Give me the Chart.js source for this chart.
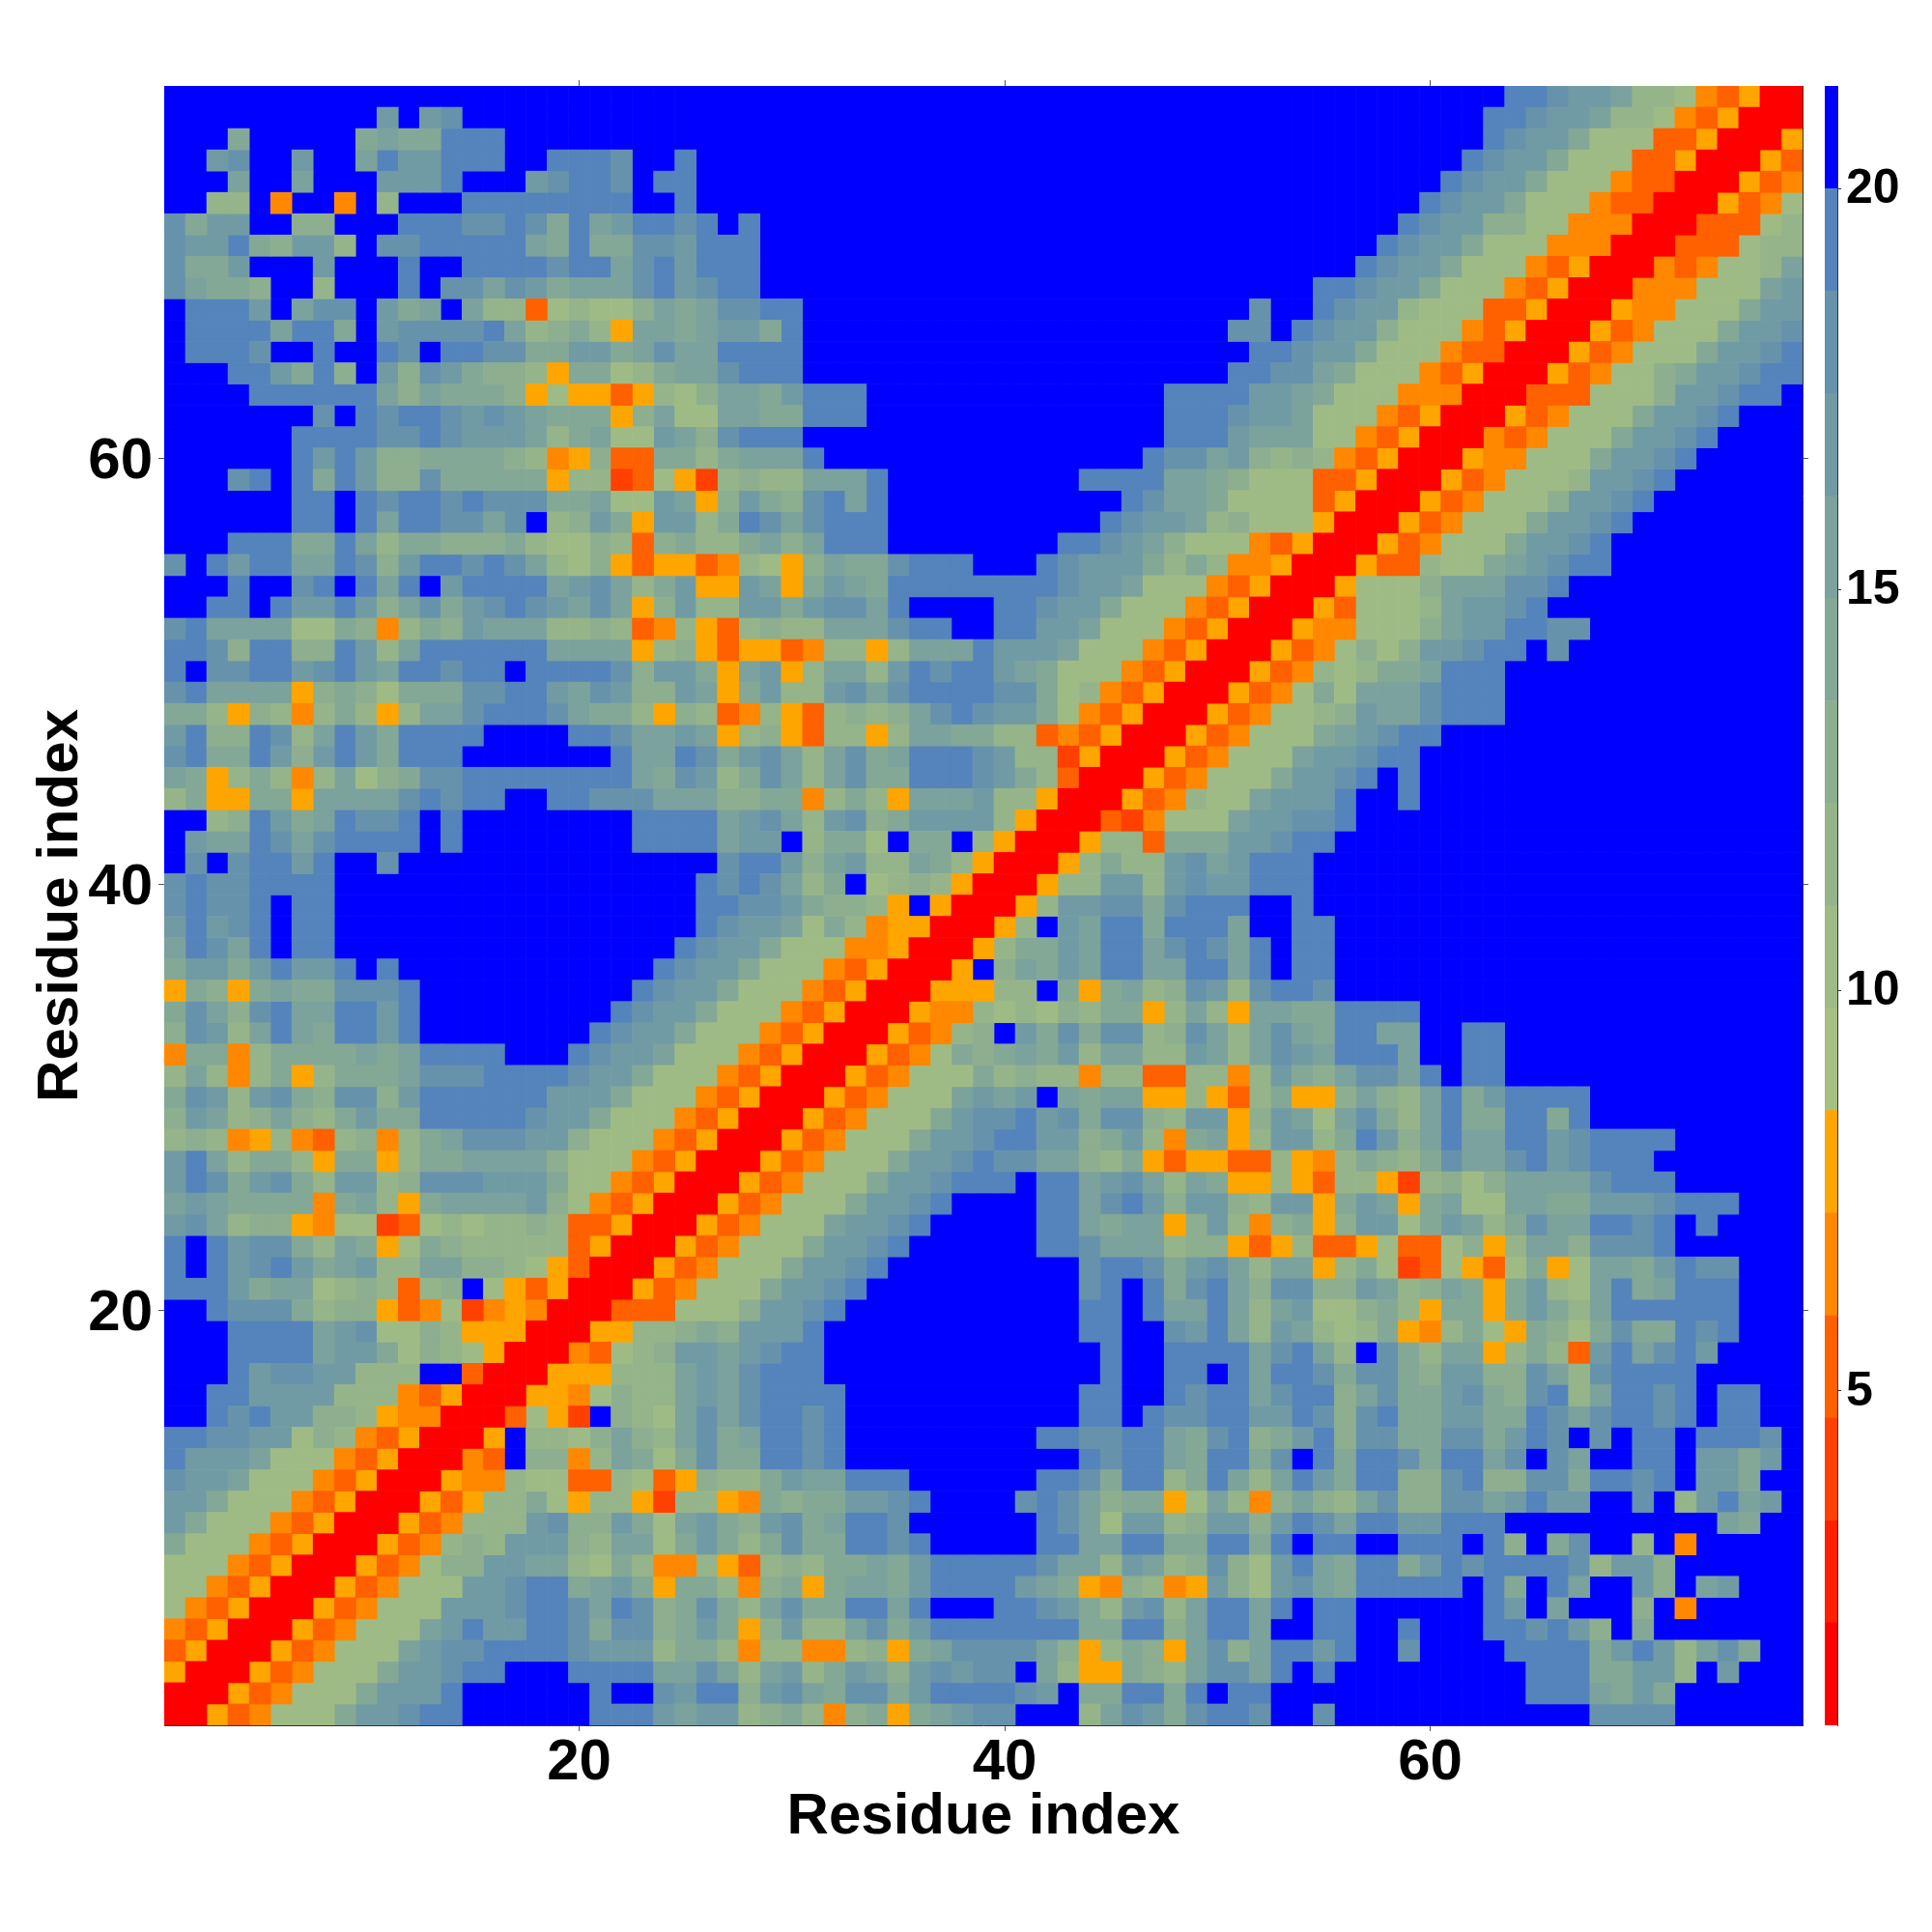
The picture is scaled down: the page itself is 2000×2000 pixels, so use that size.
<!DOCTYPE html>
<html lang="en">
<head>
<meta charset="UTF-8">
<title>Residue distance map</title>
<script src="https://cdn.jsdelivr.net/npm/chart.js@4/dist/chart.umd.min.js"></script>
<style>
  body { margin: 0; background: #fff; }
  canvas { position: absolute; top: 0; }
</style>
</head>
<body>
<canvas id="mapChart" width="2000" height="2000" style="left:0"></canvas>
<canvas id="barChart" width="120" height="2000" style="left:1880px"></canvas>
<script>
// colour bar bands, low to high
const bandEdges = [0.83, 2.11, 3.38, 4.66, 5.94, 7.22, 8.50, 9.77, 11.05, 12.33, 13.61, 14.89, 16.16, 17.44, 18.72, 20.0, 21.28];
const bandColours = ['#ff0000', '#ff2000', '#ff4000', '#ff6000', '#ff8800', '#ffa500',
  '#a5c080', '#9fbb85', '#96b48a', '#8dae8f', '#84a896', '#7ba29c', '#719ba4', '#6692ac', '#5484bb', '#0000ff'];
const residueTicks = [20, 40, 60];
const barTicks = [5, 10, 15, 20];

// map is symmetric: row n holds residues 1..n, one hex digit per cell = band index above
const distanceRows = [
  "0",
  "00",
  "500",
  "3500",
  "43500",
  "743500",
  "7743500",
  "77743500",
  "a77743500",
  "ca77743500",
  "cca77743500",
  "dccb77743500",
  "ecccb77743500",
  "eeddcc79843500",
  "ffedecc99854400",
  "ffeecccc88843500",
  "fffecddcc888ff300",
  "fffeeeebcca7987500",
  "fffeeeebcd779855500",
  "ffeddda899534724540 0",
  "eeecabb7898389f7535 00",
  "efecdecabc88bb99875 300",
  "efecdda8ba57a988888 3500",
  "cdb8995477237878898 33500",
  "bcbaaaa4ab85abbbbc9 743500",
  "cedacda8cc89dddccca 7743500",
  "ceb8aa85aa58aabbbb9 77743500",
  "898458438948abdddcc 977743500",
  "9cb89b98acaaeeeeedc ca77743500",
  "adc8cda9dd9ceeeeeec cca77743500",
  "8b848a58aaabdddeeee dcca77743500",
  "4aa48aaaababeeeefff edccb77743500",
  "9dc8bebaeecefffffff fedcca77743500",
  "adb9debbeecefffffff ffedcca77743500",
  "5a95abaadddefffffff fffedcca77743500",
  "accaceccefeffffffff ffffedcca77743500",
  "bedbefeefffffffffff fffffedcca77744500",
  "cecdefeefffffffffff ffffffedccb7a845500",
  "deddefeefffffffffff ffffffeeddca9985f50 0",
  "deddeeeefffffffffff ffffffededb8af78985 00",
  "fdfdeeceffdffffffff fffffffdeec9bc88ba8 500",
  "fcbbedbdeeeefefffff fffeeeebccf8aa7faaf 8500",
  "ff89ecabeddefefffff fffeeeebcdb8cd9accc c8500",
  "8a55aa5bbbbdedeeffe edddbbb99aa48a85bbb c88500",
  "ba58a848b79addeeeee eeebadc8adb8bdaaeee dca8300",
  "deaaec9cecaeeefffff ffebbedacdb8bdabeee dc882500",
  "ce99ed8becaeeeeffff eedbbcb589538858bba a88343500",
  "aa859848a858bbdeeed baa8598348538989bde dcca743500",
  "debbbb59a97aaaddeec bdc99cb5ac88cdbdeee edda7843500",
  "efddeecdecbeedeefee eed9cca5bc58bb8cede ecba77743500",
  "eed9ee99ec8beeeeeeb bbb5895355348858bbb ecccb77743500",
  "debbbb77a948a9cbbb8 898348538988bbbdeef feeccb77743500",
  "ffeefeccec9bdacdedc bdb59c88ccacddbefff feedcca77743500",
  "fffeffdefebefceeeeb cdb8ac55cb5acbaeeee eeeedccb77743500",
  "dfeceebbed9ceededb8 795355348759baadeee fffedccca8a844500",
  "fffeeeaaeb8aa999a87 79839a88ab9beeeffff ffffeedcb977743500",
  "ffffffeefebeeddbdf8 9ca5cc8aedbdeeeffff ffffffedccb89777500",
  "ffffffeefedeededdda ab77cb59ca9debeffff fffffffedbba7777350 0",
  "fffdefeaec99daaaaa5 88237528988bbbeffff fffffeeeebba9777335 00",
  "ffffffecec99aaaa984 5933aa8abbbefffffff ffffffffeddbc989843 500",
  "ffffffeeeeddedcccb8 ab77cb9deeeffffffff fffffffffeeecbbb774 3500",
  "fffffffdfedeedcdcba aa59b77bbaaeeefffff fffffffffeeedccb777 43500",
  "ffffeeeeeeb9baaa957 5535879bbaceeefffff fffffffffeeeeccba77 744400",
  "fffeecae9fc9dca9985 aa78abbdeeeffffffff ffffffffffffeeddba7 7743500",
  "feeedffeffedfeeddaa ccabdbbeeeeffffffff fffffffffffffeedcca 77743300",
  "feeeebeeafcddddeb89 a85bbabccaeffffffff ffffffffffffddfedcc 977743500",
  "feeecfbddfcabfb8837 8779babddeeffffffff fffffffffffffdffedc c877733500",
  "dbaa9ff8fffefddbdca bbbdecdeeffffffffff ffffffffffffffffeed cca77743500",
  "daacfffcfffeffeeeed eebdeceeeffffffffff ffffffffffffffffffe dcca77743500",
  "dccea9cc8fddeeeeeba eaaddceeeffffffffff fffffffffffffffffff edcca77744400",
  "daccff99fffeeeddeda ebceedefeffffffffff fffffffffffffffffff fedcc997744400",
  "ff88f4ff4f8fffeeeee eeeffefffffffffffff fffffffffffffffffff ffedcca77743300",
  "fffbffbfffcccefffcd eedfeefffffffffffff fffffffffffffffffff fffedcca77743300",
  "ffcdffcffbecceeeffe eedffefffffffffffff fffffffffffffffffff ffffedcca77733500",
  "fffafffffabaaeeefff fffffffffffffffffff fffffffffffffffffff fffffedcca77733500",
  "ffffffffffcfcdfffff fffffffffffffffffff fffffffffffffffffff fffffeedccb88743500",
  "fffffffffffffffffff fffffffffffffffffff fffffffffffffffffff ffffffeedccb88743500"
];

// one cell list per colour band so each band is a dataset
const bandCells = bandColours.map(() => []);
distanceRows.forEach((text, r) => {
  const row = text.replace(/ /g, '');
  for (let c = 0; c < row.length; c++) {
    const band = parseInt(row[c], 16);
    bandCells[band].push({ x: c + 1, y: [r + 0.5, r + 1.5] });
    if (c !== r) bandCells[band].push({ x: r + 1, y: [c + 0.5, c + 1.5] });
  }
});

const axisFont = { family: 'Liberation Sans', size: 60, weight: 'bold' };
const frame = { display: true, color: '#333', width: 1 };
const tickGrid = { drawOnChartArea: false, color: '#555', tickLength: 6, offset: false };

function fixedSize(prop, px) {
  return axis => { axis[prop] = px; };
}
function setTicks(values) {
  return axis => { axis.ticks = values.map(v => ({ value: v })); };
}
function residueAxis(position, prop, px, padding, labelOffset, title) {
  const isX = position === 'bottom' || position === 'top';
  const showLabels = position === 'bottom' || position === 'left';
  return {
    type: 'linear',
    axis: isX ? 'x' : 'y',
    position: position,
    min: 0.5,
    max: 77.5,
    offset: false,
    grid: tickGrid,
    border: frame,
    afterFit: fixedSize(prop, px),
    afterBuildTicks: setTicks(residueTicks),
    ticks: { display: showLabels, padding: padding, labelOffset: labelOffset, maxRotation: 0, autoSkip: false, color: '#000', font: axisFont },
    title: title
  };
}

new Chart(document.getElementById('mapChart'), {
  type: 'bar',
  data: {
    datasets: bandColours.map((colour, i) => ({ data: bandCells[i], backgroundColor: colour }))
  },
  options: {
    responsive: false,
    animation: false,
    devicePixelRatio: 1,
    grouped: false,
    barPercentage: 1,
    categoryPercentage: 1,
    layout: { padding: 0 },
    plugins: { legend: { display: false }, tooltip: { enabled: false } },
    scales: {
      x: residueAxis('bottom', 'height', 214, -2.5, 0, { display: true, text: 'Residue index', color: '#000', font: axisFont, padding: { top: 0, bottom: 83 } }),
      y: residueAxis('left', 'width', 170, 6, 4, { display: true, text: 'Residue index', color: '#000', font: axisFont, padding: { top: 27, bottom: 0 } }),
      xTop: residueAxis('top', 'height', 89, 0, 0),
      yRight: residueAxis('right', 'width', 134, 0, 0)
    }
  }
});

new Chart(document.getElementById('barChart'), {
  type: 'bar',
  data: {
    labels: [''],
    datasets: bandColours.map((colour, i) => ({ data: [[bandEdges[i], bandEdges[i + 1]]], backgroundColor: colour }))
  },
  options: {
    responsive: false,
    animation: false,
    devicePixelRatio: 1,
    grouped: false,
    barPercentage: 1,
    categoryPercentage: 1,
    layout: { padding: { top: 89, bottom: 214, left: 9, right: 0 } },
    plugins: { legend: { display: false }, tooltip: { enabled: false } },
    scales: {
      x: { display: false },
      y: {
        position: 'right',
        min: bandEdges[0],
        max: bandEdges[bandEdges.length - 1],
        grid: { drawOnChartArea: false, color: '#333', tickLength: 4, offset: false },
        border: frame,
        afterFit: fixedSize('width', 98),
        afterBuildTicks: setTicks(barTicks),
        ticks: { padding: 5, labelOffset: 1, color: '#000', font: { family: 'Liberation Sans', size: 50, weight: 'bold' } }
      }
    }
  }
});
</script>
</body>
</html>
